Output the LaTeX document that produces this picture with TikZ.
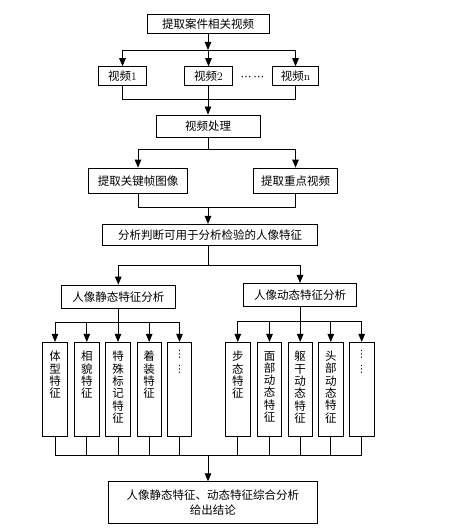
\documentclass[tikz,border=0pt]{standalone}
\usepackage{fontspec}
\newfontfamily\cjk{Noto Sans CJK SC}
\newfontfamily\dv{DejaVu Sans}
\usetikzlibrary{arrows.meta,calc}
\begin{document}
\begin{tikzpicture}[x=1pt,y=-1pt,
  box/.style={draw,line width=0.8pt,inner sep=0pt,align=center,font=\cjk\fontsize{11.5}{15}\selectfont},
  vbox/.style={draw,line width=0.8pt,minimum width=24.5pt,minimum height=93.7pt,inner sep=0pt},
  vtext/.style={inner sep=0pt,align=center,font=\cjk\fontsize{11.5}{12.3}\selectfont,anchor=north},
  vdot/.style={inner sep=0pt,font=\dv\fontsize{10}{11}\selectfont,anchor=north},
  ln/.style={line width=0.8pt},
  arr/.style={line width=0.8pt,-{Triangle[length=8pt,width=6.5pt]}}]
\useasboundingbox (0,0) rectangle (454,529);
% nodes
\node[box,minimum width=122pt,minimum height=19pt] (top) at (208,23.7) {提取案件相关视频};
\node[box,minimum width=48.4pt,minimum height=18.3pt] (v1) at (122.5,75.8) {视频{\rmfamily 1}};
\node[box,minimum width=47.6pt,minimum height=18.3pt] (v2) at (208.5,75.8) {视频{\rmfamily 2}};
\node[box,minimum width=45.6pt,minimum height=18.3pt] (vn) at (295.5,75.8) {视频{\rmfamily n}};
\node[inner sep=0pt,font=\dv\fontsize{11}{12}\selectfont] (dots) at (252.5,78.5) {⋯\hspace{2pt}⋯};
\node[box,minimum width=104pt,minimum height=22pt] (proc) at (208,126) {视频处理};
\node[box,minimum width=98.4pt,minimum height=25.3pt] (k1) at (138,180.7) {提取关键帧图像};
\node[box,minimum width=84.4pt,minimum height=25.3pt] (k2) at (295.5,180.7) {提取重点视频};
\node[box,minimum width=214.6pt,minimum height=20.7pt] (anal) at (210,234.7) {分析判断可用于分析检验的人像特征};
\node[box,minimum width=113.3pt,minimum height=23.3pt] (s) at (118.3,296.7) {人像静态特征分析};
\node[box,minimum width=113.3pt,minimum height=22.7pt] (d) at (300,294.7) {人像动态特征分析};
% static and dynamic boxes
\foreach \i/\x in {1/55,2/86.8,3/118,4/149.2,5/179.5}{
  \node[vbox] (s\i) at (\x,389.2) {};
}
\foreach \i/\x in {1/237.8,2/269.5,3/300.2,4/330.8,5/361.7}{
  \node[vbox] (d\i) at (\x,389.2) {};
}
\node[vtext] (s1t) at ($(s1.north)+(0,9)$) {体\\型\\特\\征};
\node[vtext] (s2t) at ($(s2.north)+(0,9)$) {相\\貌\\特\\征};
\node[vtext] (s3t) at ($(s3.north)+(0,9)$) {特\\殊\\标\\记\\特\\征};
\node[vtext] (s4t) at ($(s4.north)+(0,9)$) {着\\装\\特\\征};
\node[vdot] (s5a) at ($(s5.north)+(0,8)$) {⋮};
\node[vdot] (s5b) at ($(s5.north)+(0,23)$) {⋮};
\node[vtext] (d1t) at ($(d1.north)+(0,9)$) {步\\态\\特\\征};
\node[vtext] (d2t) at ($(d2.north)+(0,9)$) {面\\部\\动\\态\\特\\征};
\node[vtext] (d3t) at ($(d3.north)+(0,9)$) {躯\\干\\动\\态\\特\\征};
\node[vtext] (d4t) at ($(d4.north)+(0,9)$) {头\\部\\动\\态\\特\\征};
\node[vdot] (d5a) at ($(d5.north)+(0,8)$) {⋮};
\node[vdot] (d5b) at ($(d5.north)+(0,23)$) {⋮};
\node[box,minimum width=209pt,minimum height=41.6pt] (fin) at (212.8,502.5) {人像静态特征、动态特征综合分析\\给出结论};
% bus coordinates
\coordinate (b1) at (208,50);
\coordinate (b2) at (208,99);
\coordinate (b3) at (208,149);
\coordinate (b4) at (208,207.3);
\coordinate (b5) at (208,265);
\coordinate (b6) at (118.3,322.7);
\coordinate (b7) at (300,321);
\coordinate (b8) at (208,455);
% connectors
\draw[arr] (top.south) -- (b1);
\draw[ln] (v1.north |- b1) -- (vn.north |- b1);
\foreach \n in {v1,v2,vn}{\draw[arr] (\n.north |- b1) -- (\n.north);}
\draw[ln] (v1.south) -- (v1.south |- b2) -- (vn.south |- b2) -- (vn.south);
\draw[ln] (v2.south) -- (v2.south |- b2);
\draw[arr] (b2) -- (b2 |- proc.north);
\draw[ln] (proc.south) -- (b3);
\draw[ln] (k1.north |- b3) -- (k2.north |- b3);
\foreach \n in {k1,k2}{\draw[arr] (\n.north |- b3) -- (\n.north);}
\draw[ln] (k1.south) -- (k1.south |- b4) -- (k2.south |- b4) -- (k2.south);
\draw[arr] (b4) -- (b4 |- anal.north);
\draw[ln] (b4 |- anal.south) -- (b5);
\draw[ln] (s.north |- b5) -- (d.north |- b5);
\foreach \n in {s,d}{\draw[arr] (\n.north |- b5) -- (\n.north);}
\draw[ln] (s.south) -- (b6);
\draw[ln] (s1.north |- b6) -- (s5.north |- b6);
\foreach \n in {s1,s2,s3,s4,s5}{\draw[arr] (\n.north |- b6) -- (\n.north);}
\draw[ln] (d.south) -- (b7);
\draw[ln] (d1.north |- b7) -- (d5.north |- b7);
\foreach \n in {d1,d2,d3,d4,d5}{\draw[arr] (\n.north |- b7) -- (\n.north);}
\foreach \n in {s1,s2,s3,s4,s5,d1,d2,d3,d4,d5}{\draw[ln] (\n.south) -- (\n.south |- b8);}
\draw[ln] (s1.south |- b8) -- (d5.south |- b8);
\draw[arr] (b8) -- (b8 |- fin.north);
\end{tikzpicture}
\end{document}
